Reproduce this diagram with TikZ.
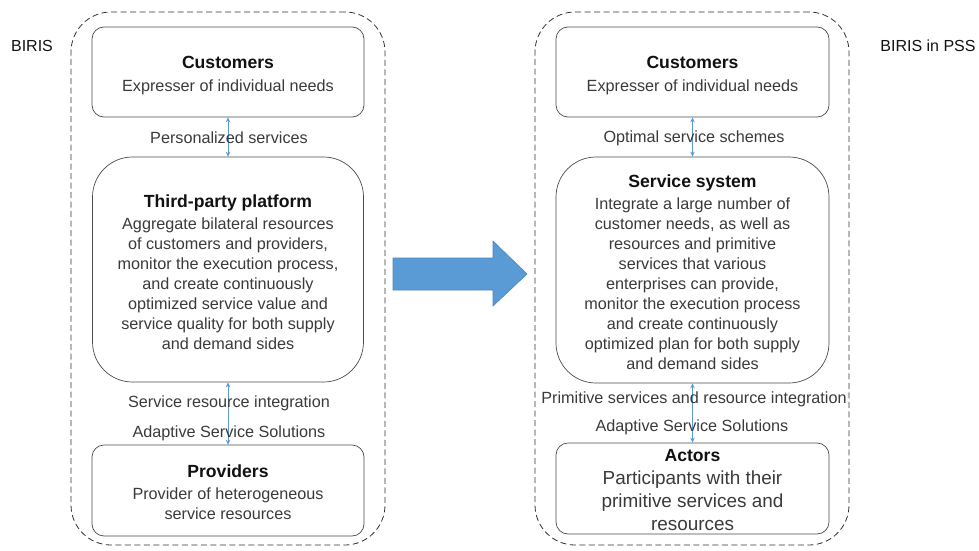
\documentclass[tikz,border=0pt]{standalone}
\usepackage{fontspec}
\setmainfont{Liberation Sans}
\usetikzlibrary{arrows.meta}
\definecolor{lineblue}{HTML}{5B9BD5}
\definecolor{arrowedge}{HTML}{4A86C0}
\definecolor{boxgray}{HTML}{4A4A4A}
\definecolor{dashgray}{HTML}{333333}
\definecolor{txtgray}{HTML}{3A3A3A}
\definecolor{titleblack}{HTML}{111111}
\newcommand{\boxtitle}[2][0pt]{{\fontsize{17.6}{21}\selectfont\bfseries\color{titleblack}\rule{0pt}{\dimexpr 13pt+#1\relax}#2}}
\begin{document}
\begin{tikzpicture}[x=1pt,y=-1pt,
  outer/.style={draw=dashgray, dash pattern=on 6pt off 3.5pt, rounded corners=40pt, line width=0.8pt, minimum width=314pt, minimum height=533pt, inner sep=0pt},
  box/.style={draw=boxgray, rounded corners=12pt, line width=0.7pt, align=center, inner sep=0pt, text=txtgray, font=\fontsize{16.2}{20}\selectfont},
  bigbox/.style={box, rounded corners=40pt},
  link/.style={lineblue, line width=0.8pt, {Stealth[length=5pt,width=4.5pt]}-{Stealth[length=5pt,width=4.5pt]}},
  lbl/.style={text=txtgray, font=\fontsize{16.2}{19}\selectfont, inner sep=0pt},
  side/.style={text=titleblack, font=\fontsize{16}{19}\selectfont, inner sep=0pt},
  bigarrow/.style={fill=lineblue, draw=arrowedge, line width=0.6pt}]
\useasboundingbox (0,0) rectangle (979,551);

% outer dashed containers
\node[outer] (L) at (228,278.5) {};
\node[outer] (R) at (692,278.5) {};

% side labels
\node[side] (lbiris) at (32,46) {BIRIS};
\node[side] (rbiris) at (928,46) {BIRIS in PSS};

% left column
\node[box, minimum width=272pt, minimum height=90pt] (LC) at (228,72)
  {\boxtitle[7pt]{Customers}\\[3pt] Expresser of individual needs};
\node[bigbox, minimum width=271pt, minimum height=225pt] (LT) at (228,269.5)
  {\boxtitle[6pt]{Third-party platform}\\[2pt]
   Aggregate bilateral resources\\
   of customers and providers,\\
   monitor the execution process,\\
   and create continuously\\
   optimized service value and\\
   service quality for both supply\\
   and demand sides};
\node[box, minimum width=272pt, minimum height=91pt] (LP) at (228,490.5)
  {\boxtitle[4pt]{Providers}\\[2pt]
   Provider of heterogeneous\\
   service resources};

\draw[link] (LC.south) -- (LT.north);
\draw[link] (LT.south) -- (LP.north);
\node[lbl] (l1) at (229,138) {Personalized services};
\node[lbl] (l2) at (229,403) {Service resource integration};
\node[lbl] (l3) at (229,433) {Adaptive Service Solutions};

% right column
\node[box, minimum width=273pt, minimum height=90pt] (RC) at (692.5,72)
  {\boxtitle[7pt]{Customers}\\[3pt] Expresser of individual needs};
\node[bigbox, minimum width=273pt, minimum height=226pt] (RS) at (692.5,270)
  {\boxtitle[4pt]{Service system}\\[2pt]
   Integrate a large number of\\
   customer needs, as well as\\
   resources and primitive\\
   services that various\\
   enterprises can provide,\\
   monitor the execution process\\
   and create continuously\\
   optimized plan for both supply\\
   and demand sides};
\node[box, minimum width=273pt, minimum height=91pt, font=\fontsize{18.9}{23}\selectfont] (RA) at (692.5,488.5)
  {\boxtitle[2pt]{Actors}\\
   Participants with their\\
   primitive services and\\
   resources};

\draw[link] (RC.south) -- (RS.north);
\draw[link] (RS.south) -- (RA.north);
\node[lbl] (r1) at (694,138) {Optimal service schemes};
\node[lbl] (r2) at (694,399) {Primitive services and resource integration};
\node[lbl] (r3) at (692,427) {Adaptive Service Solutions};

% big transition arrow
\draw[bigarrow] (393,258) -- (493,258) -- (493,241) -- (527,274) -- (493,306) -- (493,290) -- (393,290) -- cycle;
\end{tikzpicture}
\end{document}
